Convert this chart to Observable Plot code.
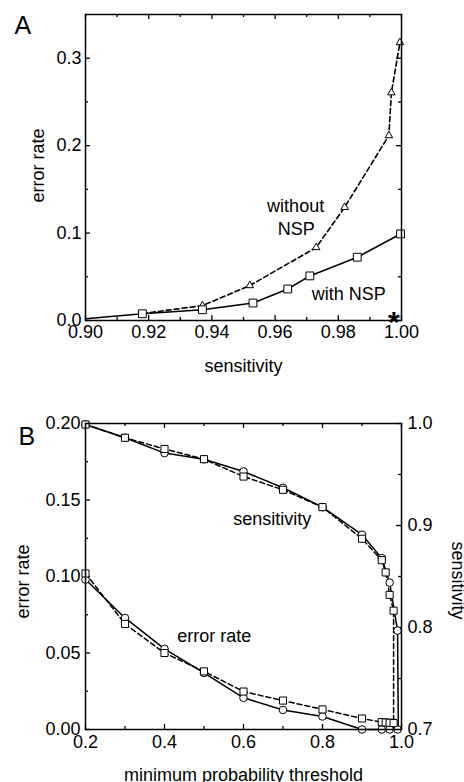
<!DOCTYPE html>
<html><head><meta charset="utf-8">
<script src="https://cdn.jsdelivr.net/npm/d3@7"></script>
<script src="https://cdn.jsdelivr.net/npm/@observablehq/plot@0.6"></script>
<style>
body{margin:0;background:#fff}
#chart svg{display:block}
</style>
</head><body><div id="chart"></div>
<script>
// ---------- Panel A: error rate vs sensitivity ----------
const aWithX    = [0.900, 0.918, 0.937, 0.953, 0.964, 0.971, 0.986, 0.9997];
const aWithY    = [0.002, 0.0077, 0.0123, 0.020, 0.036, 0.051, 0.0724, 0.099];
const aWithoutX = [0.918, 0.937, 0.952, 0.973, 0.982, 0.996, 0.9968, 0.9995];
const aWithoutY = [0.008, 0.017, 0.040, 0.0835, 0.1295, 0.2115, 0.2606, 0.318];
const aStar     = [{x: 0.9976, y: 0.0077}];
const aLabels   = [
  {text: "without",  x: 0.9665, y: 0.124},
  {text: "NSP",      x: 0.9667, y: 0.0975},
  {text: "with NSP", x: 0.9833, y: 0.0234}
];
const aXTicks = [0.90, 0.92, 0.94, 0.96, 0.98, 1.00];
const aXMinor = [0.91, 0.93, 0.95, 0.97, 0.99];
const aYTicks = [0.0, 0.1, 0.2, 0.3];
const aYMinor = [0.05, 0.15, 0.25];

// ---------- Panel B: vs minimum probability threshold ----------
// circles (solid)
const bSensCircX = [0.2, 0.3, 0.4, 0.5, 0.6, 0.7, 0.8, 0.9, 0.95, 0.97, 0.99, 0.992];
const bSensCircY = [0.999, 0.986, 0.971, 0.965, 0.953, 0.937, 0.918, 0.891, 0.868, 0.844, 0.797, 0.70];
const bErrCircX  = [0.2, 0.3, 0.4, 0.5, 0.6, 0.7, 0.8, 0.9, 0.95, 0.97, 0.99];
const bErrCircY  = [0.098, 0.0729, 0.0527, 0.037, 0.0207, 0.0128, 0.0085, 0.0, 0.0, 0.0, 0.0];
// squares (dashed)
const bSensSqX = [0.2, 0.3, 0.4, 0.5, 0.6, 0.7, 0.8, 0.9, 0.95, 0.96, 0.97, 0.98, 0.98];
const bSensSqY = [0.999, 0.986, 0.975, 0.965, 0.948, 0.935, 0.918, 0.887, 0.866, 0.854, 0.832, 0.8165, 0.70];
const bErrSqX  = [0.2, 0.3, 0.4, 0.5, 0.6, 0.7, 0.8, 0.9, 0.95, 0.96, 0.97, 0.98];
const bErrSqY  = [0.102, 0.069, 0.050, 0.038, 0.0248, 0.0189, 0.0131, 0.0072, 0.0048, 0.0046, 0.0044, 0.0042];
const bLabels  = [
  {text: "sensitivity", x: 0.673, y: 0.1335},
  {text: "error rate",  x: 0.526, y: 0.0575}
];
const bXTicks = [0.2, 0.4, 0.6, 0.8, 1.0];
const bXMinor = [0.3, 0.5, 0.7, 0.9];
const bYTicks = [0.00, 0.05, 0.10, 0.15, 0.20];
const bYMinor = [0.025, 0.075, 0.125, 0.175];
const bSensTicks = [0.7, 0.8, 0.9, 1.0];
const bSensMinor = [0.75, 0.85, 0.95];

// ---------- helpers ----------
const black = "#000";
const font = "'Liberation Sans', Arial, Helvetica, sans-serif";
const pts = (xs, ys) => xs.map((x, i) => ({x, y: ys[i]}));
// map sensitivity (0.7..1.0) onto left error-rate axis (0..0.2)
const sensToErr = s => (s - 0.7) / 0.3 * 0.2;
const errToSens = e => 0.7 + e / 0.2 * 0.3;

function inward(xMaj, xMin, yLMaj, yLMin, yRMaj, yRMin, fw, fh) {
  const M = 5, m = 3, sw = 1.3, o = {stroke: black, strokeWidth: sw};
  return [
    Plot.tickX(xMaj, {x: d => d, insetTop: fh - M, ...o}),
    Plot.tickX(xMin, {x: d => d, insetTop: fh - m, ...o}),
    Plot.tickX(xMaj, {x: d => d, insetBottom: fh - M, ...o}),
    Plot.tickX(xMin, {x: d => d, insetBottom: fh - m, ...o}),
    Plot.tickY(yLMaj, {y: d => d, insetRight: fw - M, ...o}),
    Plot.tickY(yLMin, {y: d => d, insetRight: fw - m, ...o}),
    Plot.tickY(yRMaj, {y: d => d, insetLeft: fw - M, ...o}),
    Plot.tickY(yRMin, {y: d => d, insetLeft: fw - m, ...o})
  ];
}

// ---------- Panel A ----------
const A = {w: 464, h: 380, mt: 14, mb: 60, ml: 85, mr: 63};
const aFW = A.w - A.ml - A.mr, aFH = A.h - A.mt - A.mb;
const aWith = pts(aWithX, aWithY);
const aWithout = pts(aWithoutX, aWithoutY);

const plotA = Plot.plot({
  width: A.w, height: A.h,
  marginTop: A.mt, marginBottom: A.mb, marginLeft: A.ml, marginRight: A.mr,
  x: {domain: [0.9, 1.0]},
  y: {domain: [0, 0.35]},
  style: {fontFamily: font, fontSize: "18px", color: black, background: "#fff"},
  marks: [
    Plot.axisX({ticks: aXTicks, tickFormat: d3.format(".2f"), tickSize: 0, tickPadding: 5, label: null, fontSize: 18}),
    Plot.axisY({ticks: aYTicks, tickFormat: d3.format(".1f"), tickSize: 0, tickPadding: 4, label: null, fontSize: 18}),
    ...inward(aXTicks, aXMinor, aYTicks, aYMinor, aYTicks, aYMinor, aFW, aFH),
    Plot.line(aWithout, {x: "x", y: "y", stroke: black, strokeWidth: 1.6, strokeDasharray: "5,3"}),
    Plot.line(aWith, {x: "x", y: "y", stroke: black, strokeWidth: 1.6}),
    Plot.dot(aWithout, {x: "x", y: "y", filter: (d, i) => i > 0, symbol: "triangle", r: 2.8, fill: "white", stroke: black, strokeWidth: 1}),
    Plot.dot(aWith, {x: "x", y: "y", filter: (d, i) => i > 0, symbol: "square", r: 4.4, fill: "white", stroke: black, strokeWidth: 1}),
    Plot.text(aLabels, {x: "x", y: "y", text: "text", textAnchor: "middle", lineAnchor: "bottom", fontSize: 18, fill: black}),
    Plot.text(aStar, {x: "x", y: "y", text: () => "*", textAnchor: "middle", lineAnchor: "middle", dy: 9, fontSize: 30, fontWeight: "bold", fill: black}),
    Plot.frame({stroke: black, strokeWidth: 1.5}),
    Plot.text(["sensitivity"], {text: d => d, frameAnchor: "bottom", dy: 51, lineAnchor: "bottom", textAnchor: "middle", fontSize: 18, fill: black}),
    Plot.text(["error rate"], {text: d => d, frameAnchor: "left", dx: -42, dy: -2, rotate: -90, lineAnchor: "bottom", textAnchor: "middle", fontSize: 18, fill: black}),
    Plot.text(["A"], {text: d => d, frameAnchor: "top-left", dx: -71, dy: 19, lineAnchor: "bottom", textAnchor: "start", fontSize: 25, fill: black})
  ]
});

// ---------- Panel B ----------
const B = {w: 464, h: 402, mt: 43, mb: 53, ml: 85, mr: 63};
const bFW = B.w - B.ml - B.mr, bFH = B.h - B.mt - B.mb;
const sensCirc = pts(bSensCircX, bSensCircY.map(sensToErr));
const sensSq   = pts(bSensSqX, bSensSqY.map(sensToErr));
const errCirc  = pts(bErrCircX, bErrCircY);
const errSq    = pts(bErrSqX, bErrSqY);
const nC = sensCirc.length, nS = sensSq.length;

const plotB = Plot.plot({
  width: B.w, height: B.h,
  marginTop: B.mt, marginBottom: B.mb, marginLeft: B.ml, marginRight: B.mr,
  x: {domain: [0.2, 1.0]},
  y: {domain: [0, 0.2]},
  style: {fontFamily: font, fontSize: "18px", color: black, background: "#fff"},
  marks: [
    Plot.axisX({ticks: bXTicks, tickFormat: d3.format(".1f"), tickSize: 0, tickPadding: 6, label: null, fontSize: 18}),
    Plot.axisY({ticks: bYTicks, tickFormat: d3.format(".2f"), tickSize: 0, tickPadding: 5, label: null, fontSize: 18}),
    Plot.axisY({anchor: "right", ticks: bSensTicks.map(sensToErr), tickFormat: v => d3.format(".1f")(errToSens(v)), tickSize: 0, tickPadding: 6, label: null, fontSize: 18}),
    ...inward(bXTicks, bXMinor, bYTicks, bYMinor, bSensTicks.map(sensToErr), bSensMinor.map(sensToErr), bFW, bFH),
    Plot.line(sensSq, {x: "x", y: "y", stroke: black, strokeWidth: 1.5, strokeDasharray: "5,3"}),
    Plot.line(errSq, {x: "x", y: "y", stroke: black, strokeWidth: 1.5, strokeDasharray: "5,3"}),
    Plot.line(sensCirc, {x: "x", y: "y", stroke: black, strokeWidth: 1.5}),
    Plot.line(errCirc, {x: "x", y: "y", stroke: black, strokeWidth: 1.5}),
    Plot.dot(sensCirc, {x: "x", y: "y", filter: (d, i) => i < nC - 1, symbol: "circle", r: 3.8, fill: "white", stroke: black, strokeWidth: 1}),
    Plot.dot(errCirc, {x: "x", y: "y", symbol: "circle", r: 3.8, fill: "white", stroke: black, strokeWidth: 1}),
    Plot.dot(sensSq, {x: "x", y: "y", filter: (d, i) => i < nS - 1, symbol: "square", r: 4, fill: "white", stroke: black, strokeWidth: 1}),
    Plot.dot(errSq, {x: "x", y: "y", symbol: "square", r: 4, fill: "white", stroke: black, strokeWidth: 1}),
    Plot.text(bLabels, {x: "x", y: "y", text: "text", textAnchor: "middle", lineAnchor: "bottom", fontSize: 18, fill: black}),
    Plot.frame({stroke: black, strokeWidth: 1.5}),
    Plot.text(["minimum probability threshold"], {text: d => d, frameAnchor: "bottom", dy: 51, lineAnchor: "bottom", textAnchor: "middle", fontSize: 18, fill: black}),
    Plot.text(["error rate"], {text: d => d, frameAnchor: "left", dx: -57, dy: 5, rotate: -90, lineAnchor: "bottom", textAnchor: "middle", fontSize: 18, fill: black}),
    Plot.text(["sensitivity"], {text: d => d, frameAnchor: "right", dx: 50, dy: 4, rotate: 90, lineAnchor: "bottom", textAnchor: "middle", fontSize: 18, fill: black}),
    Plot.text(["B"], {text: d => d, frameAnchor: "top-left", dx: -67, dy: 21, lineAnchor: "bottom", textAnchor: "start", fontSize: 25, fill: black})
  ]
});

const chart = document.getElementById("chart");
chart.append(plotA, plotB);
</script>
</body></html>
